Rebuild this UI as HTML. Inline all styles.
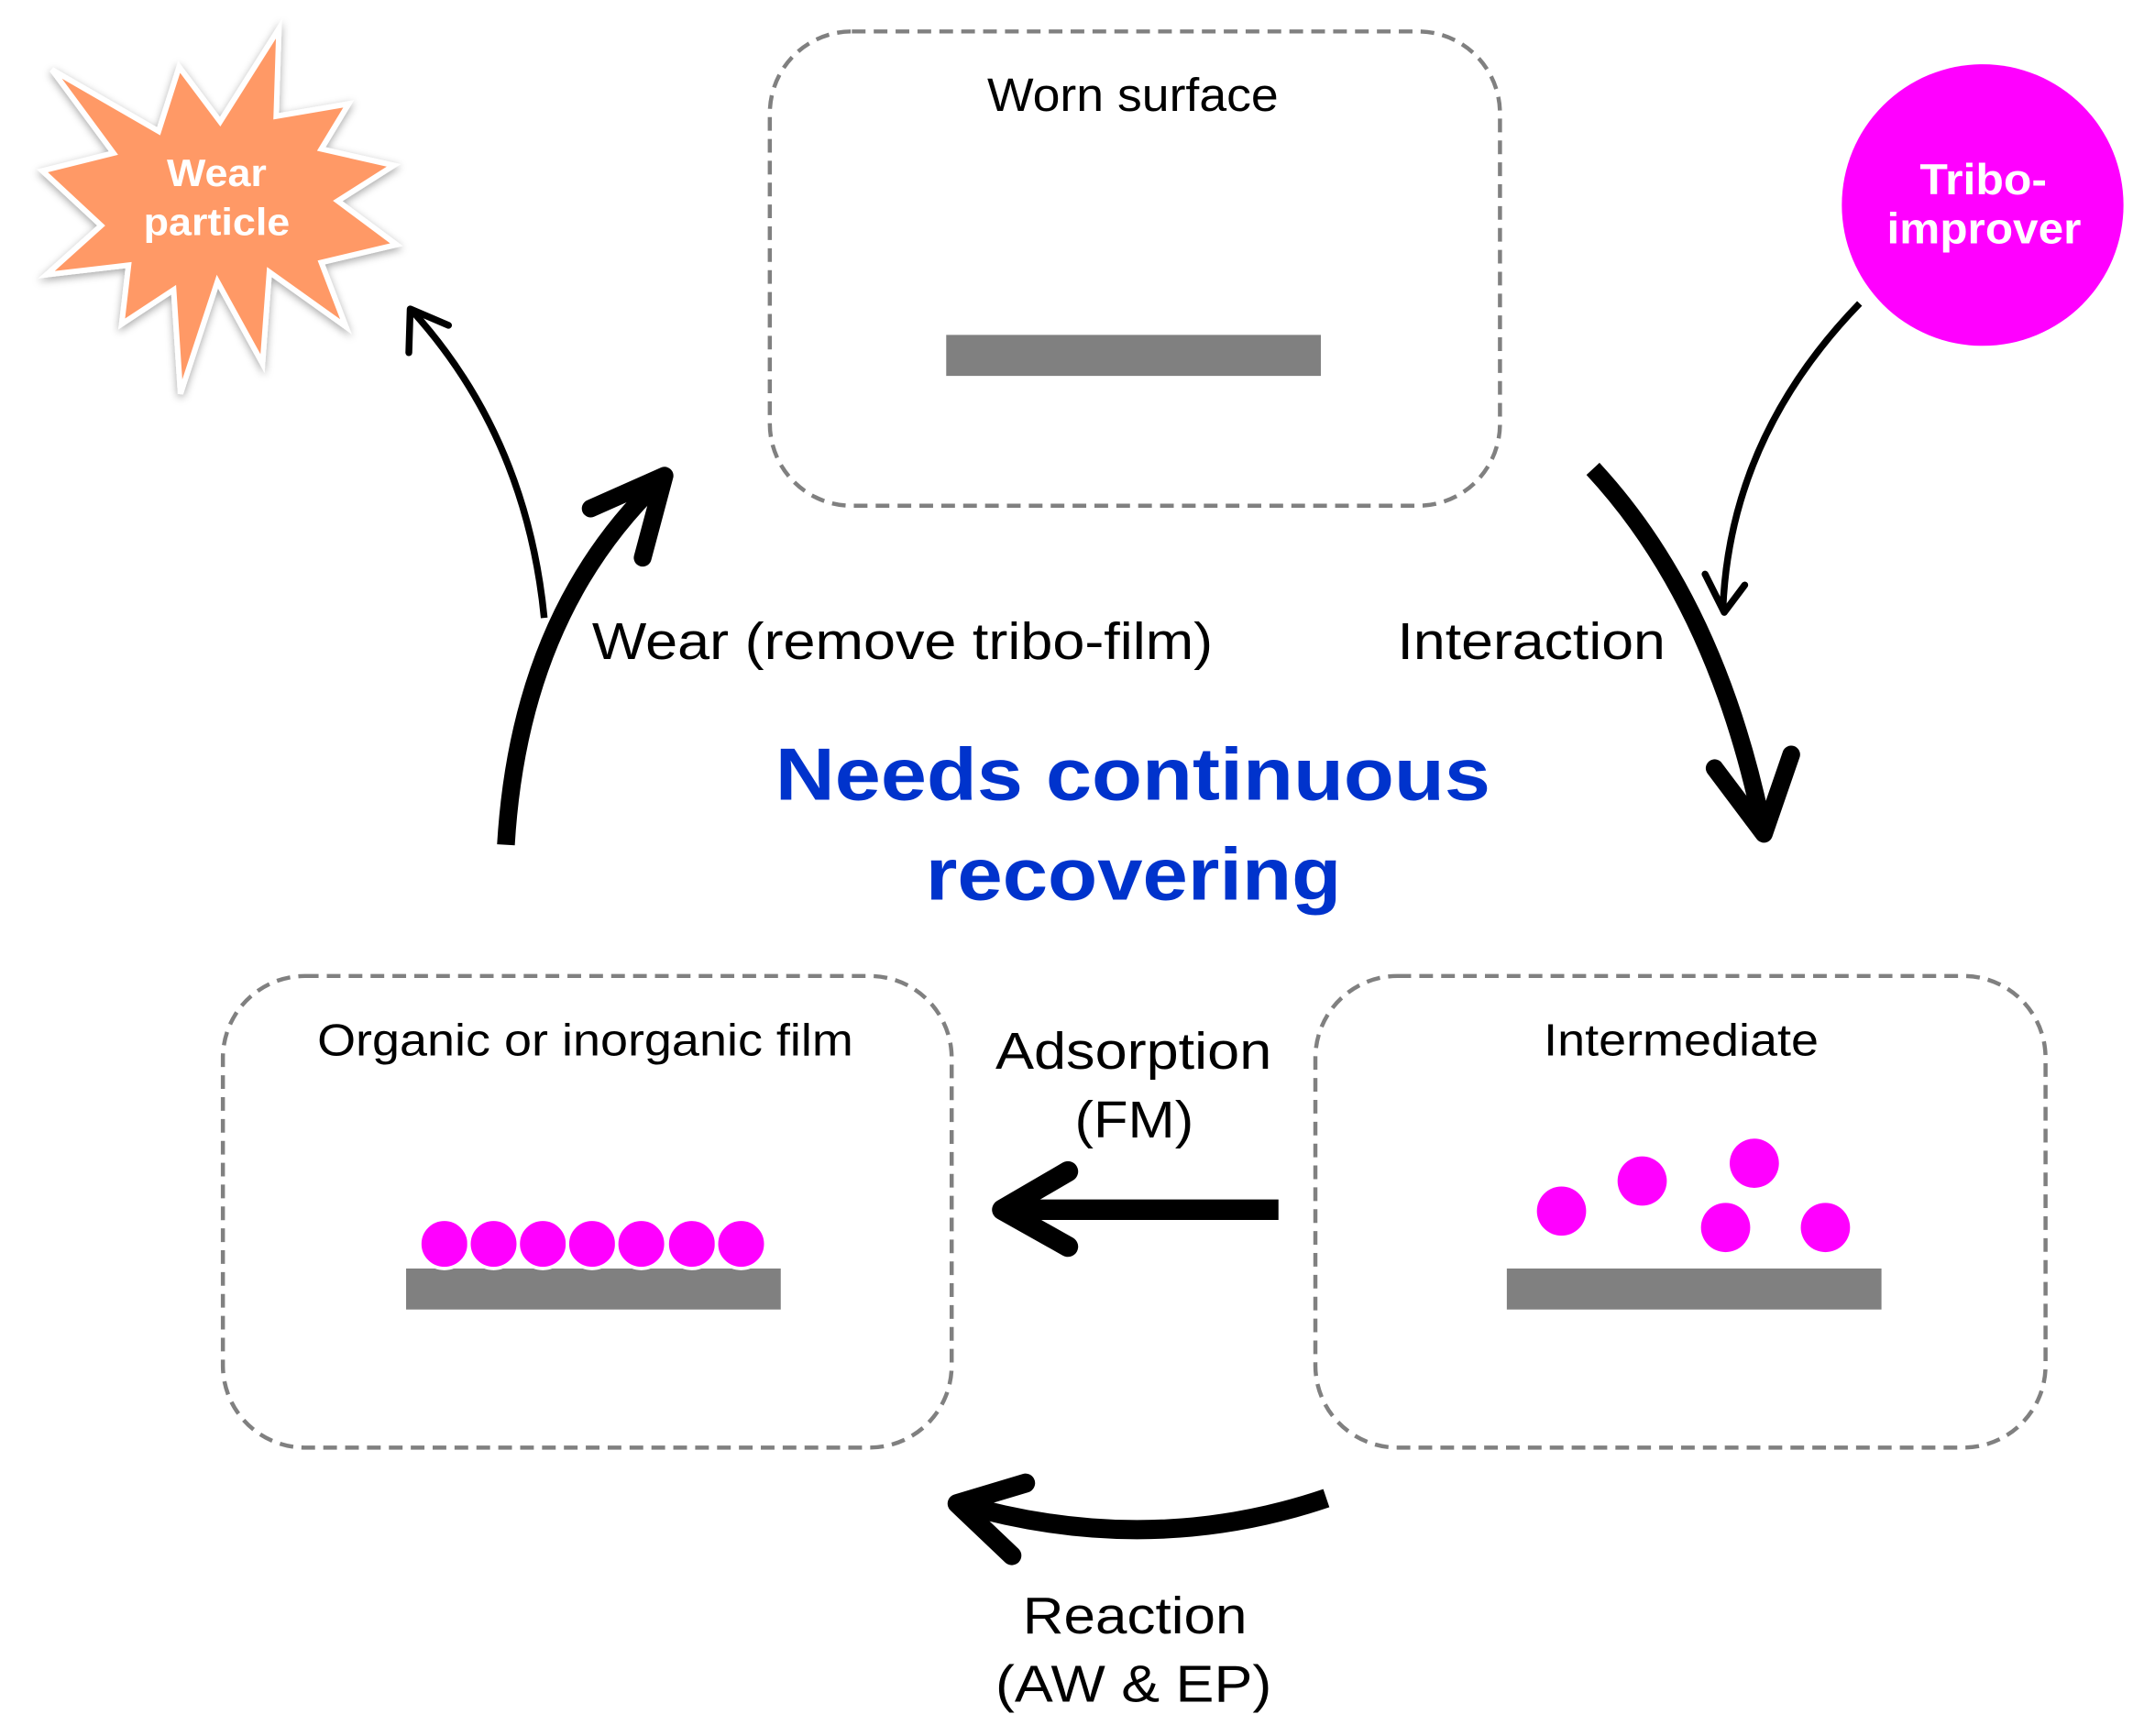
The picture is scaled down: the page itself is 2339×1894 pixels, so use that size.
<!DOCTYPE html>
<html><head><meta charset="utf-8"><style>html,body{margin:0;padding:0;background:#fff}svg{display:block}</style></head>
<body>
<svg width="2339" height="1894" viewBox="0 0 1568 1270" preserveAspectRatio="none" xmlns="http://www.w3.org/2000/svg" font-family="Liberation Sans, Arial, sans-serif">
<defs><filter id="sh" x="-20%" y="-20%" width="140%" height="140%"><feDropShadow dx="0" dy="2" stdDeviation="3" flood-color="#000" flood-opacity="0.35"/></filter></defs>
<polygon filter="url(#sh)" fill="#FF9966" stroke="#fff" stroke-width="4" stroke-linejoin="miter" points="204,21 202,85 255,76 235,109 288,121 247,147 290,179 235,192 253,239 197,199 192,266 159,206 132,288 127,212 89,237 94,194 34,201 74,165 31,125 83,112 38,51 116,96 131,49 161,89"/>
<text x="122" y="136" font-size="28" font-weight="bold" fill="#fff" textLength="73" lengthAdjust="spacingAndGlyphs">Wear</text>
<text x="105" y="172" font-size="28" font-weight="bold" fill="#fff" textLength="107" lengthAdjust="spacingAndGlyphs">particle</text>
<circle cx="1450" cy="150" r="103" fill="#ff00ff"/>
<text x="1404" y="142" font-size="32" font-weight="bold" fill="#fff" textLength="93" lengthAdjust="spacingAndGlyphs">Tribo-</text>
<text x="1380" y="178" font-size="32" font-weight="bold" fill="#fff" textLength="142" lengthAdjust="spacingAndGlyphs">improver</text>
<g fill="none" stroke="#808080" stroke-width="3" stroke-dasharray="10 6">
<rect x="563" y="23" width="534" height="347" rx="60"/>
<rect x="163" y="714" width="533" height="345" rx="60"/>
<rect x="962" y="714" width="534" height="345" rx="60"/>
</g>
<rect x="692" y="245" width="274" height="30" fill="#808080"/>
<rect x="297" y="928" width="274" height="30" fill="#808080"/>
<rect x="1102" y="928" width="274" height="30" fill="#808080"/>
<g fill="#ff00ff" stroke="#fff" stroke-width="2.5">
<circle cx="325" cy="910" r="18"/><circle cx="361" cy="910" r="18"/><circle cx="397" cy="910" r="18"/><circle cx="433" cy="910" r="18"/><circle cx="469" cy="910" r="18"/><circle cx="506" cy="910" r="18"/><circle cx="542" cy="910" r="18"/>
</g>
<g fill="#ff00ff">
<circle cx="1142" cy="886" r="18"/><circle cx="1201" cy="864" r="18"/><circle cx="1283" cy="851" r="18"/><circle cx="1262" cy="898" r="18"/><circle cx="1335" cy="898" r="18"/>
</g>
<g fill="none" stroke="#000" stroke-linecap="round" stroke-linejoin="round">
<path d="M370,618 Q380,450 482,352" stroke-width="13" stroke-linecap="butt"/>
<path d="M432,372 L486,348 L470,408" stroke-width="13"/>
<path d="M398,452 Q385,320 302,228" stroke-width="5" stroke-linecap="butt"/>
<path d="M299,258 L300,226 L328,238" stroke-width="5"/>
<path d="M1165,343 Q1255,440 1289,605" stroke-width="13" stroke-linecap="butt"/>
<path d="M1254,562 L1290,610 L1310,552" stroke-width="13"/>
<path d="M1360,222 Q1265,320 1260,446" stroke-width="5" stroke-linecap="butt"/>
<path d="M1247,420 L1261,448 L1276,428" stroke-width="5"/>
<path d="M935,885 L735,885" stroke-width="15" stroke-linecap="butt"/>
<path d="M781,857 L733,885 L781,912" stroke-width="15"/>
<path d="M970,1096 Q840,1140 702,1100" stroke-width="14" stroke-linecap="butt"/>
<path d="M750,1085 L700,1100 L740,1138" stroke-width="14"/>
</g>
<g fill="#000" lengthAdjust="spacingAndGlyphs">
<text x="722" y="81" font-size="34" textLength="213" lengthAdjust="spacingAndGlyphs">Worn surface</text>
<text x="232" y="772" font-size="33" textLength="392" lengthAdjust="spacingAndGlyphs">Organic or inorganic film</text>
<text x="1129" y="772" font-size="33" textLength="201" lengthAdjust="spacingAndGlyphs">Intermediate</text>
<text x="728" y="782" font-size="38" textLength="202" lengthAdjust="spacingAndGlyphs">Adsorption</text>
<text x="786" y="832" font-size="38" textLength="87" lengthAdjust="spacingAndGlyphs">(FM)</text>
<text x="748" y="1195" font-size="38" textLength="164" lengthAdjust="spacingAndGlyphs">Reaction</text>
<text x="728" y="1245" font-size="38" textLength="202" lengthAdjust="spacingAndGlyphs">(AW &amp; EP)</text>
<text x="433" y="482" font-size="38" textLength="454" lengthAdjust="spacingAndGlyphs">Wear (remove tribo-film)</text>
<text x="1022" y="482" font-size="38" textLength="196" lengthAdjust="spacingAndGlyphs">Interaction</text>
</g>
<g fill="#0033CC" font-weight="bold" font-size="54">
<text x="567" y="585" textLength="523" lengthAdjust="spacingAndGlyphs">Needs continuous</text>
<text x="677" y="658" textLength="304" lengthAdjust="spacingAndGlyphs">recovering</text>
</g>
</svg>
</body></html>
